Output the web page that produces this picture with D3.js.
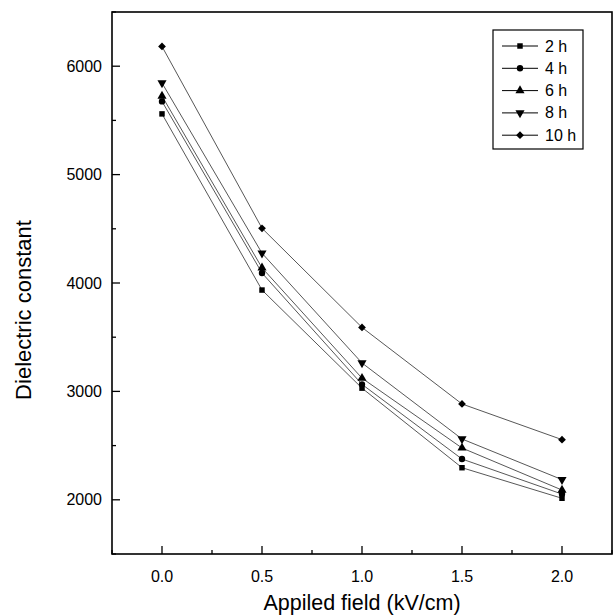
<!DOCTYPE html>
<html><head><meta charset="utf-8">
<script src="https://cdn.jsdelivr.net/npm/d3@7/dist/d3.min.js"></script>
<style>body{margin:0;background:#fff}svg{display:block}text{font-family:"Liberation Sans",Arial,sans-serif;fill:#000}</style>
</head><body><svg id="c" width="614" height="615"></svg>
<script>
const fields = [0.0, 0.5, 1.0, 1.5, 2.0];
const seriesNames = ["2 h", "4 h", "6 h", "8 h", "10 h"];
const s2h  = [5560, 3935, 3030, 2296, 2014];
const s4h  = [5675, 4092, 3065, 2376, 2053];
const s6h  = [5725, 4140, 3122, 2478, 2090];
const s8h  = [5845, 4275, 3262, 2561, 2186];
const s10h = [6182, 4505, 3590, 2884, 2555];
const xTicks = [0.0, 0.5, 1.0, 1.5, 2.0];
const yTicks = [2000, 3000, 4000, 5000, 6000];
const markers = ["square", "circle", "up", "down", "diamond"];
const allSeries = [s2h, s4h, s6h, s8h, s10h];

const svg = d3.select("#c");
const L = 112, R = 612, T = 12, B = 554;
const x = d3.scaleLinear().domain([-0.25, 2.25]).range([L, R]);
const y = d3.scaleLinear().domain([1500, 6500]).range([B, T]);

function sym(type){
  const map = {square:[d3.symbolSquare,30], circle:[d3.symbolCircle,32], up:[d3.symbolTriangle,36], down:[d3.symbolTriangle,36], diamond:[d3.symbolSquare,30]};
  const m = map[type];
  return d3.symbol().type(m[0]).size(m[1])();
}
function rot(type){ return type==="down"?" rotate(180)":(type==="diamond"?" rotate(45)":""); }

// frame
svg.append("rect").attr("x",L).attr("y",T).attr("width",R-L).attr("height",B-T)
  .attr("fill","none").attr("stroke","#000").attr("stroke-width",1.6);

// x ticks (inward)
const xMinor = d3.range(-0.25, 2.26, 0.25);
svg.append("g").selectAll("line").data(xMinor).join("line")
  .attr("x1",d=>x(d)).attr("x2",d=>x(d)).attr("y1",B)
  .attr("y2",d=>B-(Math.abs(d*2-Math.round(d*2))<1e-6?8:4))
  .attr("stroke","#000").attr("stroke-width",1.3);
svg.append("g").selectAll("text").data(xTicks).join("text")
  .attr("x",d=>x(d)).attr("y",B+28).attr("text-anchor","middle")
  .attr("font-size",16).text(d=>d.toFixed(1));

// y ticks
const yMinor = d3.range(1500, 6501, 500);
svg.append("g").selectAll("line").data(yMinor).join("line")
  .attr("y1",d=>y(d)).attr("y2",d=>y(d)).attr("x1",L)
  .attr("x2",d=>L+(d%1000===0?8:4))
  .attr("stroke","#000").attr("stroke-width",1.3);
svg.append("g").selectAll("text").data(yTicks).join("text")
  .attr("x",L-10).attr("y",d=>y(d)+5.5).attr("text-anchor","end")
  .attr("font-size",16).text(d=>d);

// titles
svg.append("text").attr("x",362).attr("y",610).attr("text-anchor","middle")
  .attr("font-size",21.5).text("Appiled field (kV/cm)");
svg.append("text").attr("transform","translate(31,310) rotate(-90)")
  .attr("text-anchor","middle").attr("font-size",22).text("Dielectric constant");

// series
const line = d3.line().x((d,i)=>x(fields[i])).y(d=>y(d));
allSeries.forEach((s,k)=>{
  svg.append("path").datum(s).attr("d",line).attr("fill","none")
    .attr("stroke","#444").attr("stroke-width",0.9);
});
allSeries.forEach((s,k)=>{
  svg.append("g").selectAll("path").data(s).join("path")
    .attr("d",sym(markers[k]))
    .attr("transform",(d,i)=>`translate(${x(fields[i])},${y(d)})${rot(markers[k])}`)
    .attr("fill","#000");
});

// legend
const lg = svg.append("g");
lg.append("rect").attr("x",493).attr("y",30).attr("width",90).attr("height",119)
  .attr("fill","none").attr("stroke","#000").attr("stroke-width",1.2);
seriesNames.forEach((n,k)=>{
  const yy = 46 + k*22.3;
  lg.append("line").attr("x1",502).attr("x2",538).attr("y1",yy).attr("y2",yy)
    .attr("stroke","#000").attr("stroke-width",1);
  lg.append("path").attr("d",sym(markers[k]))
    .attr("transform",`translate(520,${yy})${rot(markers[k])}`)
    .attr("fill","#000");
  lg.append("text").attr("x",545).attr("y",yy+5.5).attr("font-size",16).text(n);
});
</script></body></html>
